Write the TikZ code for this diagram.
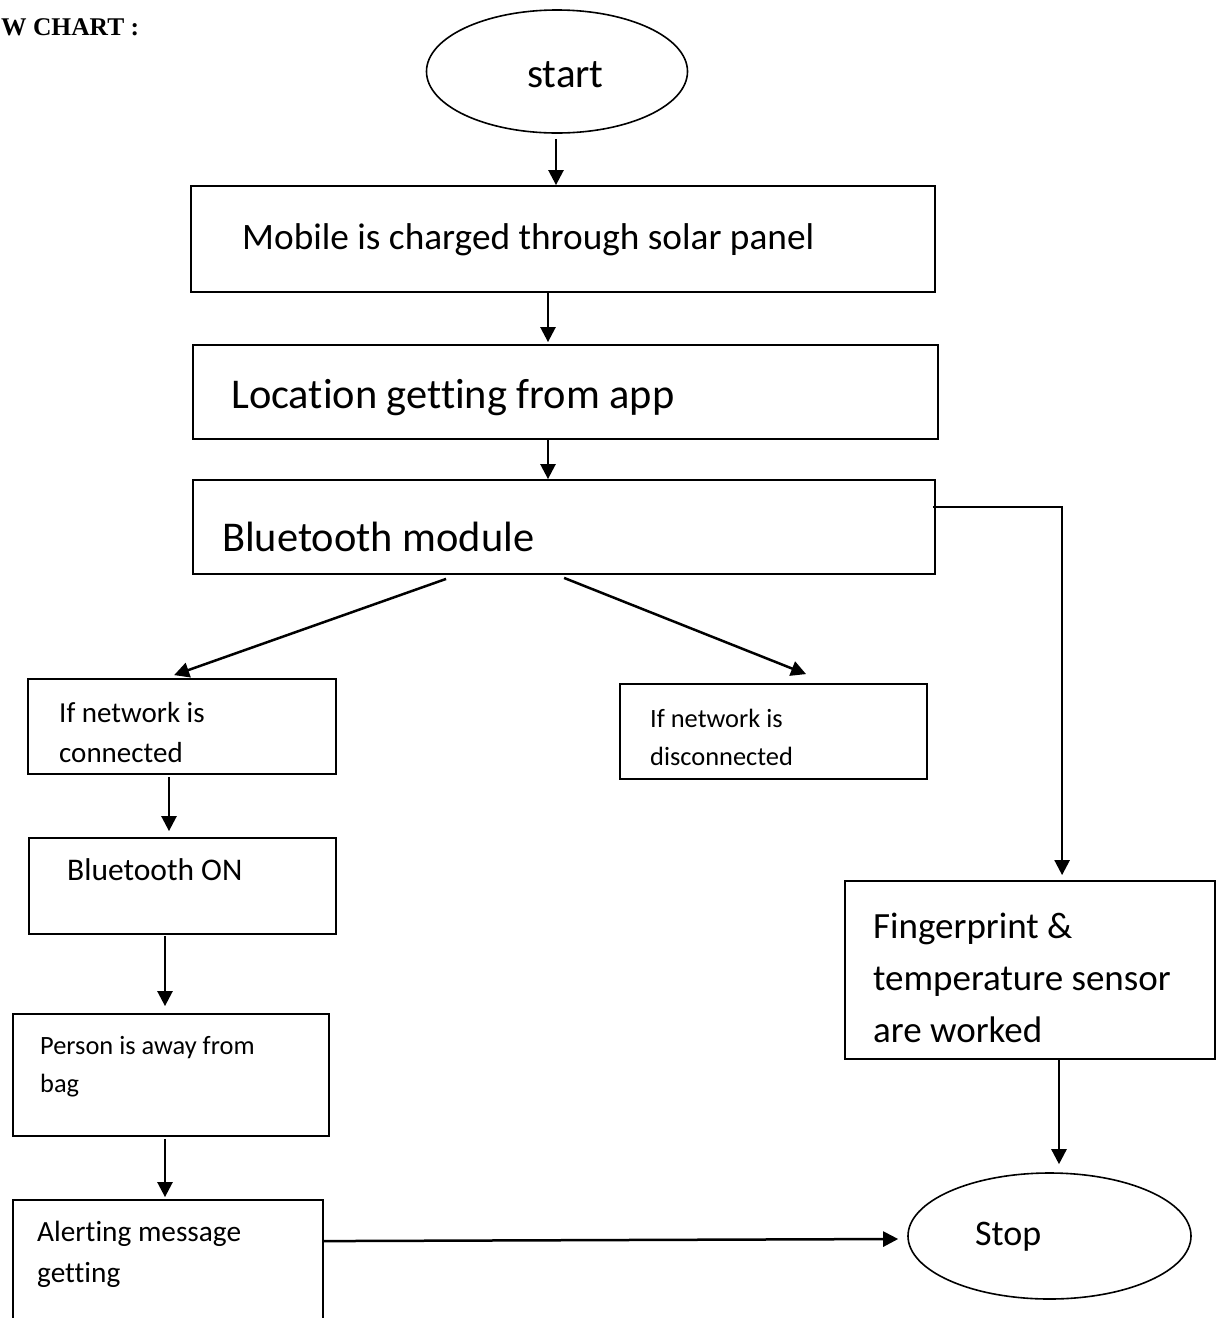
\documentclass[tikz,border=0pt]{standalone}
\usepackage{fontspec}
\setmainfont[Ligatures=NoCommon]{Carlito}
\newfontfamily\titlefont{Liberation Serif}
\usetikzlibrary{arrows.meta,shapes.geometric,calc}
\tikzset{
  box/.style={draw,line width=1.8pt,rectangle,inner sep=0pt},
  oval/.style={draw,line width=1.6pt,ellipse,inner sep=0pt},
  txt/.style={anchor=west,inner sep=0pt,align=left},
  arr/.style={line width=2.5pt,-{Triangle[length=15pt,width=15pt]}},
}
\begin{document}
\begin{tikzpicture}[x=1pt,y=-1pt]
\useasboundingbox (0,0) rectangle (1216,1318);
\clip (0,0) rectangle (1216,1318);
% title
\node[txt,font=\titlefont\bfseries\fontsize{25.5}{30}\selectfont] (title) at (1,27) {W CHART :};
% shapes
\node[oval,minimum width=261pt,minimum height=123pt] (start) at (557,71.5) {};
\node[txt,font=\fontsize{41}{48}\selectfont] (tstart) at (527,75) {start};
\node[box,minimum width=744pt,minimum height=106pt] (b1) at (563,239) {};
\node[txt,font=\fontsize{37.3}{44}\selectfont] (t1) at (242,240) {Mobile is charged through solar panel};
\node[box,minimum width=745pt,minimum height=94pt] (b2) at (565.5,392) {};
\node[txt,font=\fontsize{42.4}{50}\selectfont] (t2) at (231,398) {Location getting from app};
\node[box,minimum width=742pt,minimum height=94pt] (b3) at (564,527) {};
\node[txt,font=\fontsize{42.4}{50}\selectfont] (t3) at (222,537) {Bluetooth module};
\node[box,minimum width=308pt,minimum height=95pt] (b4) at (182,726.5) {};
\node[txt,font=\fontsize{29}{40}\selectfont] (t4) at (59,733) {If network is\\connected};
\node[box,minimum width=307pt,minimum height=95pt] (b5) at (773.5,731.5) {};
\node[txt,font=\fontsize{26.4}{38}\selectfont] (t5) at (650,737) {If network is\\disconnected};
\node[box,minimum width=307pt,minimum height=96pt] (b6) at (182.5,886) {};
\node[txt,font=\fontsize{31.5}{38}\selectfont] (t6) at (67,870) {Bluetooth ON};
\node[box,minimum width=316pt,minimum height=122pt] (b7) at (171,1075) {};
\node[txt,font=\fontsize{26.4}{38}\selectfont] (t7) at (40,1067) {Person is away from\\bag};
\node[box,minimum width=310pt,minimum height=140pt] (b8) at (168,1270) {};
\node[txt,font=\fontsize{29.3}{41}\selectfont] (t8) at (37,1254.5) {Alerting message\\getting};
\node[box,minimum width=370pt,minimum height=178pt] (fp) at (1030,970) {};
\node[txt,font=\fontsize{37}{52}\selectfont] (tfp) at (873,978) {Fingerprint \&\\temperature sensor\\are worked};
\node[oval,minimum width=283pt,minimum height=126pt] (stop) at (1049.5,1236) {};
\node[txt,font=\fontsize{36}{44}\selectfont] (tstop) at (975,1237) {Stop};
% connectors
\draw[arr,shorten <=5pt] (556,0 |- start.south) -- (556,0 |- b1.north);
\draw[arr,shorten >=2pt] (548,0 |- b1.south) -- (548,0 |- b2.north);
\draw[arr] (548,0 |- b2.south) -- (548,0 |- b3.north);
\draw[arr] ($(b3.south west)+(254,4)$) -- ($(b4.north west)+(147,-3)$);
\draw[arr] ($(b3.south west)+(372,3)$) -- ($(b5.north west)+(187,-9)$);
\draw[arr] ($(b3.north east)+(-3,28)$) -| ($(fp.north west)+(218,-5)$);
\draw[arr,shorten <=2pt,shorten >=6pt] (169,0 |- b4.south) -- (169,0 |- b6.north);
\draw[arr,shorten <=1pt,shorten >=7pt] (165,0 |- b6.south) -- (165,0 |- b7.north);
\draw[arr,shorten <=2pt,shorten >=2pt] (165,0 |- b7.south) -- (165,0 |- b8.north);
\draw[arr] ($(b8.north east)+(0,42)$) -- ($(stop.west)+(-9,3)$);
\draw[arr,shorten >=8pt] (1059,0 |- fp.south) -- (1059,0 |- stop.north);
\end{tikzpicture}
\end{document}
